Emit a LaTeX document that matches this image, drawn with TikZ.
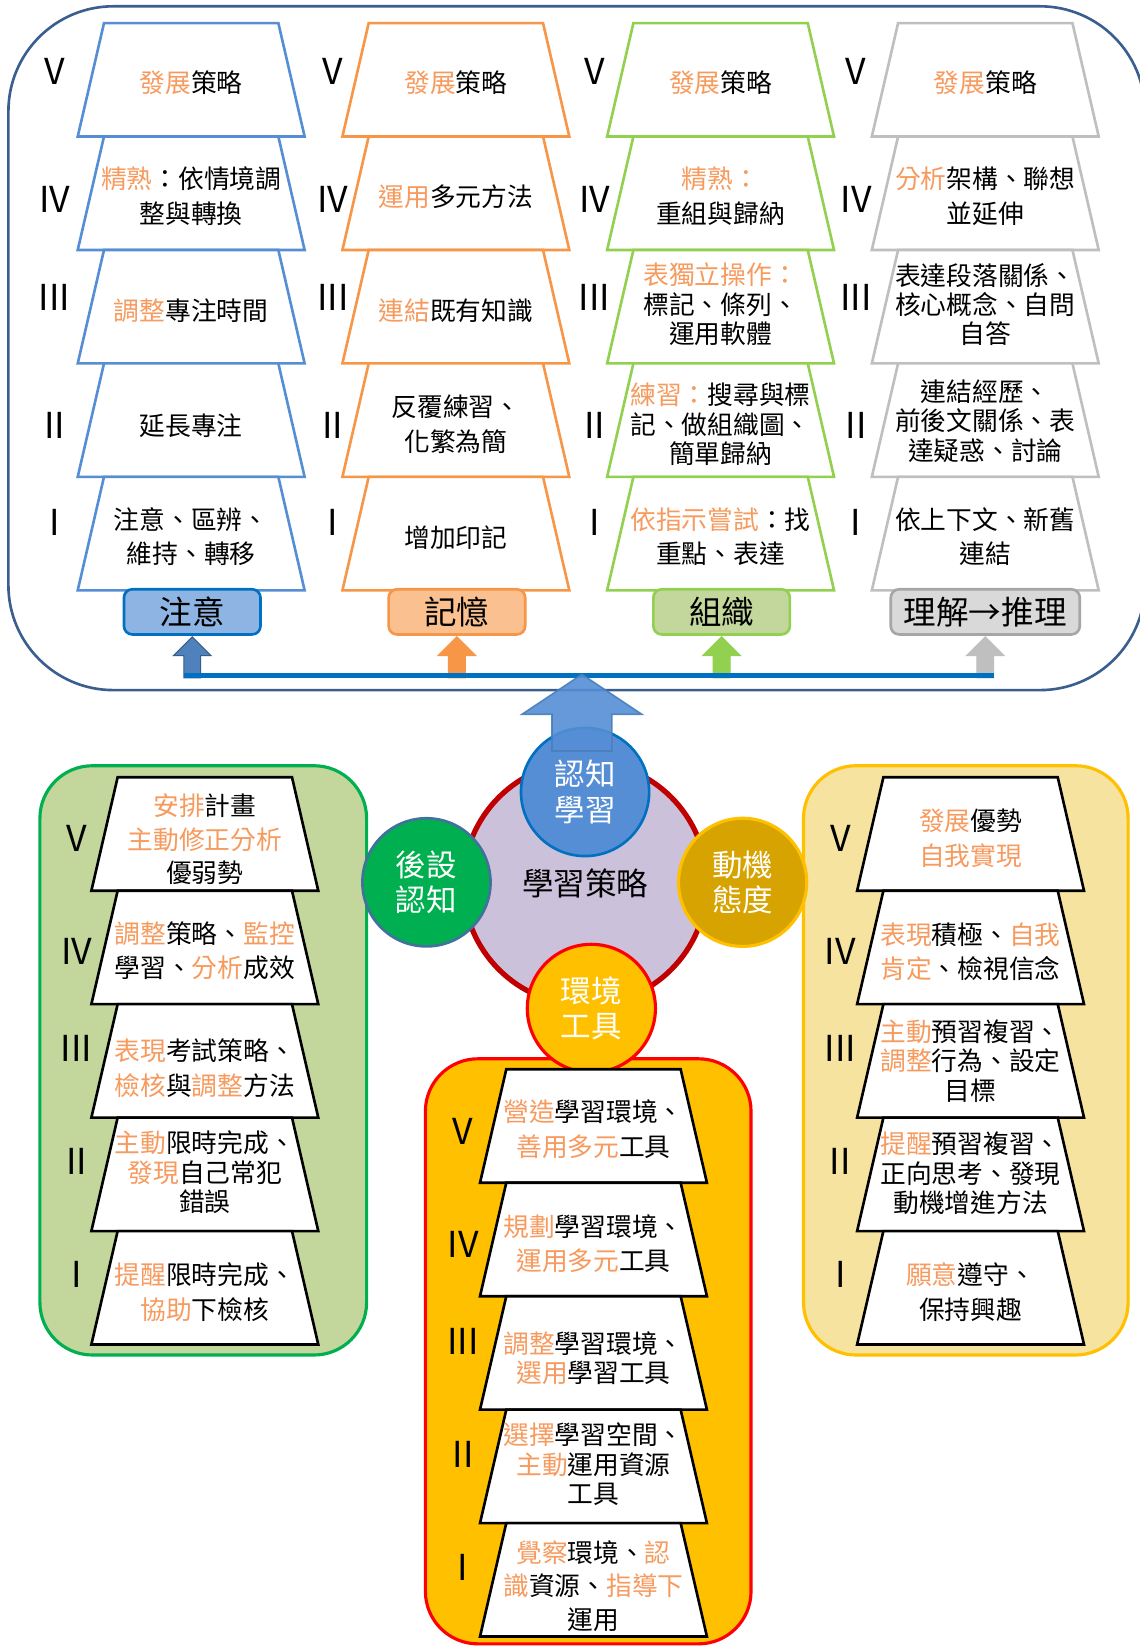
\documentclass[tikz,border=0pt]{standalone}
\usepackage{fontspec}
\setmainfont{Noto Sans CJK TC}
\usetikzlibrary{calc}
\definecolor{hlc}{HTML}{F79A5E}
\definecolor{topc}{HTML}{3B5E91}
\definecolor{cA}{HTML}{558ED5}
\definecolor{cB}{HTML}{F79646}
\definecolor{cC}{HTML}{92D050}
\definecolor{cD}{HTML}{BFBFBF}
\definecolor{fA}{HTML}{8EB4E3}
\definecolor{dA}{HTML}{0070C0}
\definecolor{fB}{HTML}{FAC090}
\definecolor{fC}{HTML}{C3D69B}
\definecolor{fD}{HTML}{D9D9D9}
\definecolor{dD}{HTML}{A6A6A6}
\definecolor{arA}{HTML}{4F81BD}
\definecolor{arAd}{HTML}{385D8A}
\definecolor{lineblue}{HTML}{0070C0}
\definecolor{bigar}{HTML}{558ED5}
\definecolor{bigard}{HTML}{4A7EBB}
\definecolor{lav}{HTML}{CCC1DA}
\definecolor{darkred}{HTML}{C00000}
\definecolor{metaf}{HTML}{00B050}
\definecolor{metad}{HTML}{41719C}
\definecolor{motf}{HTML}{D6A300}
\definecolor{goldc}{HTML}{FFC000}
\definecolor{purered}{HTML}{FF0000}
\definecolor{lpf}{HTML}{C3D69B}
\definecolor{rpf}{HTML}{F6E3A0}
\newcommand\hl[1]{\textcolor{hlc}{#1}}
\newcommand\trapz[3]{\draw[trapline,#3] ({#1-83},{#2}) -- ({#1+83},{#2}) -- ({#1+108},{#2+108}) -- ({#1-108},{#2+108}) -- cycle;}
\newcommand\romans[7]{%
 \node[rn] (#2v) at (#1,#3) {V};
 \node[rn] (#2iv) at (#1,#4) {IV};
 \node[rn] (#2iii) at (#1,#5) {III};
 \node[rn] (#2ii) at (#1,#6) {II};
 \node[rn] (#2i) at (#1,#7) {I};}
\newcommand\uparr[4]{%
 \coordinate (#4) at ($(#1.south)+(0,38)$);
 \filldraw[blockar,fill=#2,draw=#3] ($(#1.south)+(0,1)$) -- ++(18,18) -- ++(-10,0) -- ++(0,21) -- ++(-16,0) -- ++(0,-21) -- ++(-10,0) -- cycle;}
\begin{document}
\begin{tikzpicture}[x=1pt,y=-1pt,
 trapline/.style={line width=2.5pt,fill=white,line join=miter},
 tx/.style={font=\fontsize{24.5}{33}\selectfont,align=center,inner sep=0pt},
 txn/.style={font=\fontsize{24.5}{28}\selectfont,align=center,inner sep=0pt},
 txm/.style={font=\fontsize{24.5}{32}\selectfont,align=center,inner sep=0pt},
 rn/.style={font=\fontsize{34}{34}\selectfont,inner sep=0pt},
 lbox/.style={rounded corners=8pt,line width=2.5pt,minimum height=43pt,inner sep=0pt,font=\fontsize{31}{31}\selectfont},
 circ/.style={circle,minimum size=122pt,inner sep=0pt,line width=3pt,text=white,align=center,font=\fontsize{29}{34}\selectfont},
 panel/.style={line width=3pt,rounded corners=50pt},
 blockar/.style={line width=1pt}]
\fill[white] (0,0) rectangle (1085,1568);
\useasboundingbox (0,0) rectangle (1085,1568);

% ---------- top section ----------
\draw[line width=2.5pt,draw=topc,rounded corners=100pt] (8,6) rectangle (1090,657);
\foreach \yt in {22,130,238,346,454} {
  \trapz{182}{\yt}{draw=cA}
  \trapz{434}{\yt}{draw=cB}
  \trapz{686}{\yt}{draw=cC}
  \trapz{938}{\yt}{draw=cD}
}
\romans{52}{ra}{68}{190}{283}{405}{497}
\romans{317}{rb}{68}{190}{283}{405}{497}
\romans{566}{rc}{68}{190}{283}{405}{497}
\romans{815}{rd}{68}{190}{283}{405}{497}

% column 1
\node[tx] (a5) at (182,79) {\hl{發展}策略};
\node[tx] (a4) at (182,187) {\hl{精熟}：依情境調\\整與轉換};
\node[tx] (a3) at (182,296) {\hl{調整}專注時間};
\node[tx] (a2) at (182,405) {延長專注};
\node[tx] (a1) at (182,511) {注意、區辨、\\維持、轉移};
% column 2
\node[tx] (b5) at (434,79) {\hl{發展}策略};
\node[tx] (b4) at (434,187) {\hl{運用}多元方法};
\node[tx] (b3) at (434,296) {\hl{連結}既有知識};
\node[tx] (b2) at (434,404) {反覆練習、\\化繁為簡};
\node[tx] (b1) at (434,512) {增加印記};
% column 3
\node[tx] (c5) at (686,79) {\hl{發展}策略};
\node[tx] (c4) at (686,187) {\hl{精熟：}\\重組與歸納};
\node[txn] (c3) at (686,290) {\hl{表獨立操作：}\\標記、條列、\\運用軟體};
\node[txn] (c2) at (686,404) {\hl{練習：}搜尋與標\\記、做組織圖、\\簡單歸納};
\node[tx] (c1) at (686,511) {\hl{依指示嘗試}：找\\重點、表達};
% column 4
\node[tx] (d5) at (938,79) {\hl{發展}策略};
\node[tx] (d4) at (938,187) {\hl{分析}架構、聯想\\並延伸};
\node[txn] (d3) at (938,290) {表達段落關係、\\核心概念、自問\\自答};
\node[txn] (d2) at (938,401) {連結經歷、\\前後文關係、表\\達疑惑、討論};
\node[tx] (d1) at (938,511) {依上下文、新舊\\連結};

% label boxes
\node[lbox,fill=fA,draw=dA,minimum width=130pt] (L1) at (183,582.5) {注意};
\node[lbox,fill=fB,draw=cB,minimum width=130pt] (L2) at (435,582.5) {記憶};
\node[lbox,fill=fC,draw=cC,minimum width=130pt] (L3) at (687,582.5) {組織};
\node[lbox,fill=fD,draw=dD,minimum width=180pt] (L4) at (938,582.5) {理解→推理};

\uparr{L1}{arA}{arAd}{p1}
\uparr{L2}{cB}{cB}{p2}
\uparr{L3}{cC}{cC}{p3}
\uparr{L4}{cD}{cD}{p4}
\draw[line width=5pt,draw=lineblue] ($(p1)+(-8,0)$) -- ($(p4)+(8,0)$);

% ---------- panels ----------
\draw[panel,fill=lpf,draw=metaf] (38,729) rectangle (349,1290);
\draw[panel,fill=rpf,draw=goldc] (765,729) rectangle (1074,1290);
\draw[panel,fill=goldc,draw=purered] (405,1008) rectangle (715,1565);

% ---------- centre circles ----------
\node[circle,minimum size=232pt,inner sep=0pt,fill=lav,draw=darkred,line width=5pt] (core) at (557,841) {};
\node[font=\fontsize{30}{30}\selectfont,inner sep=0pt] (coret) at (557,841) {學習策略};
\node[circ,fill=bigar,draw=dA,line width=2.5pt] (cog) at (557,754) {認知\\學習};
\node[circ,fill=metaf,draw=metad,line width=2.5pt] (meta) at (406,840) {後設\\認知};
\node[circ,fill=motf,draw=goldc] (mot) at (707,840) {動機\\態度};
\node[circ,fill=goldc,draw=purered] (env) at (563,960) {環境\\工具};
\coordinate (bt) at (554,642);
\filldraw[fill=bigar,draw=bigard,line width=1.5pt,fill opacity=0.9,draw opacity=0.9] (bt) -- ++(57,38) -- ++(-28.5,0) -- ++(0,35) -- ++(-57,0) -- ++(0,-35) -- ++(-28.5,0) -- cycle;

% ---------- left panel ----------
\foreach \yt in {740,848,956,1064,1172} {\trapz{195}{\yt}{draw=black}}
\romans{73}{la}{798}{906}{998}{1106}{1213}
\node[txm] (l5) at (195,799) {\hl{安排}計畫\\\hl{主動修正分析}\\優弱勢};
\node[tx] (l4) at (195,905) {\hl{調整}策略、\hl{監控}\\學習、\hl{分析}成效};
\node[font=\fontsize{24.5}{34}\selectfont,align=center,inner sep=0pt] (l3) at (195,1017) {\hl{表現}考試策略、\\\hl{檢核}與\hl{調整}方法};
\node[txn] (l2) at (195,1116) {\hl{主動}限時完成、\\\hl{發現}自己常犯\\錯誤};
\node[tx] (l1) at (195,1230) {\hl{提醒}限時完成、\\\hl{協助}下檢核};

% ---------- right panel ----------
\foreach \yt in {740,848,956,1064,1172} {\trapz{924}{\yt}{draw=black}}
\romans{800}{ma}{798}{906}{998}{1106}{1213}
\node[tx] (m5) at (924,798) {\hl{發展}優勢\\\hl{自我實現}};
\node[tx] (m4) at (924,906) {\hl{表現}積極、\hl{自我}\\\hl{肯定}、檢視信念};
\node[txn] (m3) at (924,1010) {\hl{主動}預習複習、\\\hl{調整}行為、設定\\目標};
\node[txn] (m2) at (924,1117) {\hl{提醒}預習複習、\\正向思考、發現\\動機增進方法};
\node[tx] (m1) at (924,1230) {\hl{願意}遵守、\\保持興趣};

% ---------- bottom panel ----------
\foreach \yt in {1018,1126,1234,1342,1450} {\trapz{565}{\yt}{draw=black}}
\romans{441}{ea}{1077}{1185}{1277}{1385}{1492}
\node[tx] (e5) at (565,1075) {\hl{營造}學習環境、\\\hl{善用多元}工具};
\node[tx] (e4) at (565,1184) {\hl{規劃}學習環境、\\\hl{運用多元}工具};
\node[txn] (e3) at (565,1293) {\hl{調整}學習環境、\\\hl{選用}學習工具};
\node[txn] (e2) at (565,1394) {\hl{選擇}學習空間、\\\hl{主動}運用資源\\工具};
\node[txm] (e1) at (565,1510) {\hl{覺察}環境、\hl{認}\\\hl{識}資源、\hl{指導下}\\運用};
\end{tikzpicture}
\end{document}
